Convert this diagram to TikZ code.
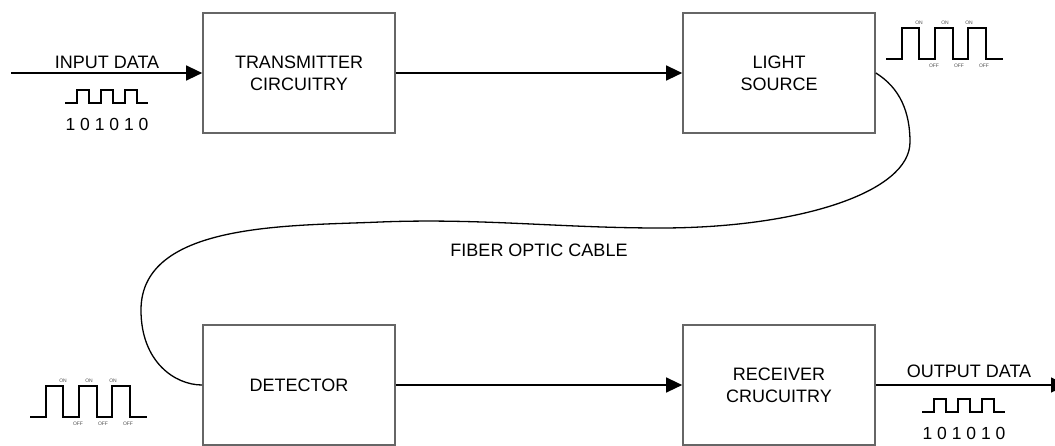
\documentclass[tikz,border=0pt]{standalone}
\usepackage{fontspec}
\setmainfont{Liberation Sans}
\usetikzlibrary{arrows.meta}

\tikzset{
  block/.style={draw=black!60, line width=1.7pt, fill=white, minimum width=192pt,
    minimum height=120pt, align=center, inner sep=0pt,
    font=\fontsize{18}{22}\selectfont},
  label text/.style={font=\fontsize{18}{22}\selectfont, inner sep=0pt},
  bits text/.style={font=\fontsize{17.5}{20}\selectfont, inner sep=0pt},
  tiny text/.style={font=\fontsize{5}{6}\selectfont, text=black!70, inner sep=0pt},
  link/.style={draw=black, line width=1.4pt, -{Triangle[length=16pt,width=15pt]}},
  cable/.style={draw=black, line width=1.3pt},
  wave/.style={draw=black, line width=2.2pt, line join=miter},
  thinwave/.style={draw=black, line width=1.3pt, line join=miter},
  % small 0/1 pulse train drawn under the data labels
  small pulses/.pic={
    \draw[thinwave] (0,0) -- (12,0) -- (12,-13) -- (24,-13) -- (24,0) -- (36,0)
      -- (36,-13) -- (48,-13) -- (48,0) -- (60,0) -- (60,-13) -- (72,-13)
      -- (72,0) -- (83,0);
  },
  % optical ON/OFF pulse train
  light pulses/.pic={
    \draw[wave] (0,0) -- (16,0) -- (16,-31) -- (33,-31) -- (33,0) -- (49,0)
      -- (49,-31) -- (67,-31) -- (67,0) -- (82,0) -- (82,-31) -- (100,-31)
      -- (100,0) -- (117,0);
    \node[tiny text] (-on1) at (33,-36) {ON};
    \node[tiny text] (-on2) at (59,-36) {ON};
    \node[tiny text] (-on3) at (83,-36) {ON};
    \node[tiny text] (-off1) at (48,7) {OFF};
    \node[tiny text] (-off2) at (73,7) {OFF};
    \node[tiny text] (-off3) at (98,7) {OFF};
  }
}

\begin{document}
\begin{tikzpicture}[x=1pt, y=-1pt]
  \useasboundingbox (0,0) rectangle (1055,445);

  % blocks
  \node[block] (tx)  at (299,73)  {TRANSMITTER\\CIRCUITRY};
  \node[block] (src) at (779,73)  {LIGHT\\SOURCE};
  \node[block] (det) at (299,385) {DETECTOR};
  \node[block] (rx)  at (779,385) {RECEIVER\\CRUCUITRY};

  % free ends of the data lines
  \coordinate (in)  at (11,73);
  \coordinate (out) at (1067,385);

  % signal path
  \draw[link] (in) -- (tx.west);
  \draw[link] (tx.east) -- (src.west);
  \draw[link] (det.east) -- (rx.west);
  \draw[link] (rx.east) -- (out);

  % fiber optic cable from the source round to the detector
  \draw[cable] (src.east)
    .. controls (900,88) and (910,112) .. (910,142)
    .. controls (910,192) and (800,228) .. (660,228)
    .. controls (560,228) and (480,218) .. (380,222)
    .. controls (290,226) and (141,222) .. (141,310)
    .. controls (141,362) and (175,385) .. (det.west);

  % labels
  \node[label text] (inlbl)  at (107,62)  {INPUT DATA};
  \node[bits text]  (inbits) at (107,124) {1 0 1 0 1 0};
  \node[label text] (outlbl) at (969,371.5) {OUTPUT DATA};
  \node[bits text]  (outbits) at (964,433) {1 0 1 0 1 0};
  \node[label text] (fiber) at (539,250) {FIBER OPTIC CABLE};

  % pulse trains
  \pic (inwave)  at (65,103)  {small pulses};
  \pic (outwave) at (922,412) {small pulses};
  \pic (txwave)  at (886,59)  {light pulses};
  \pic (rxwave)  at (30,417)  {light pulses};
\end{tikzpicture}
\end{document}
